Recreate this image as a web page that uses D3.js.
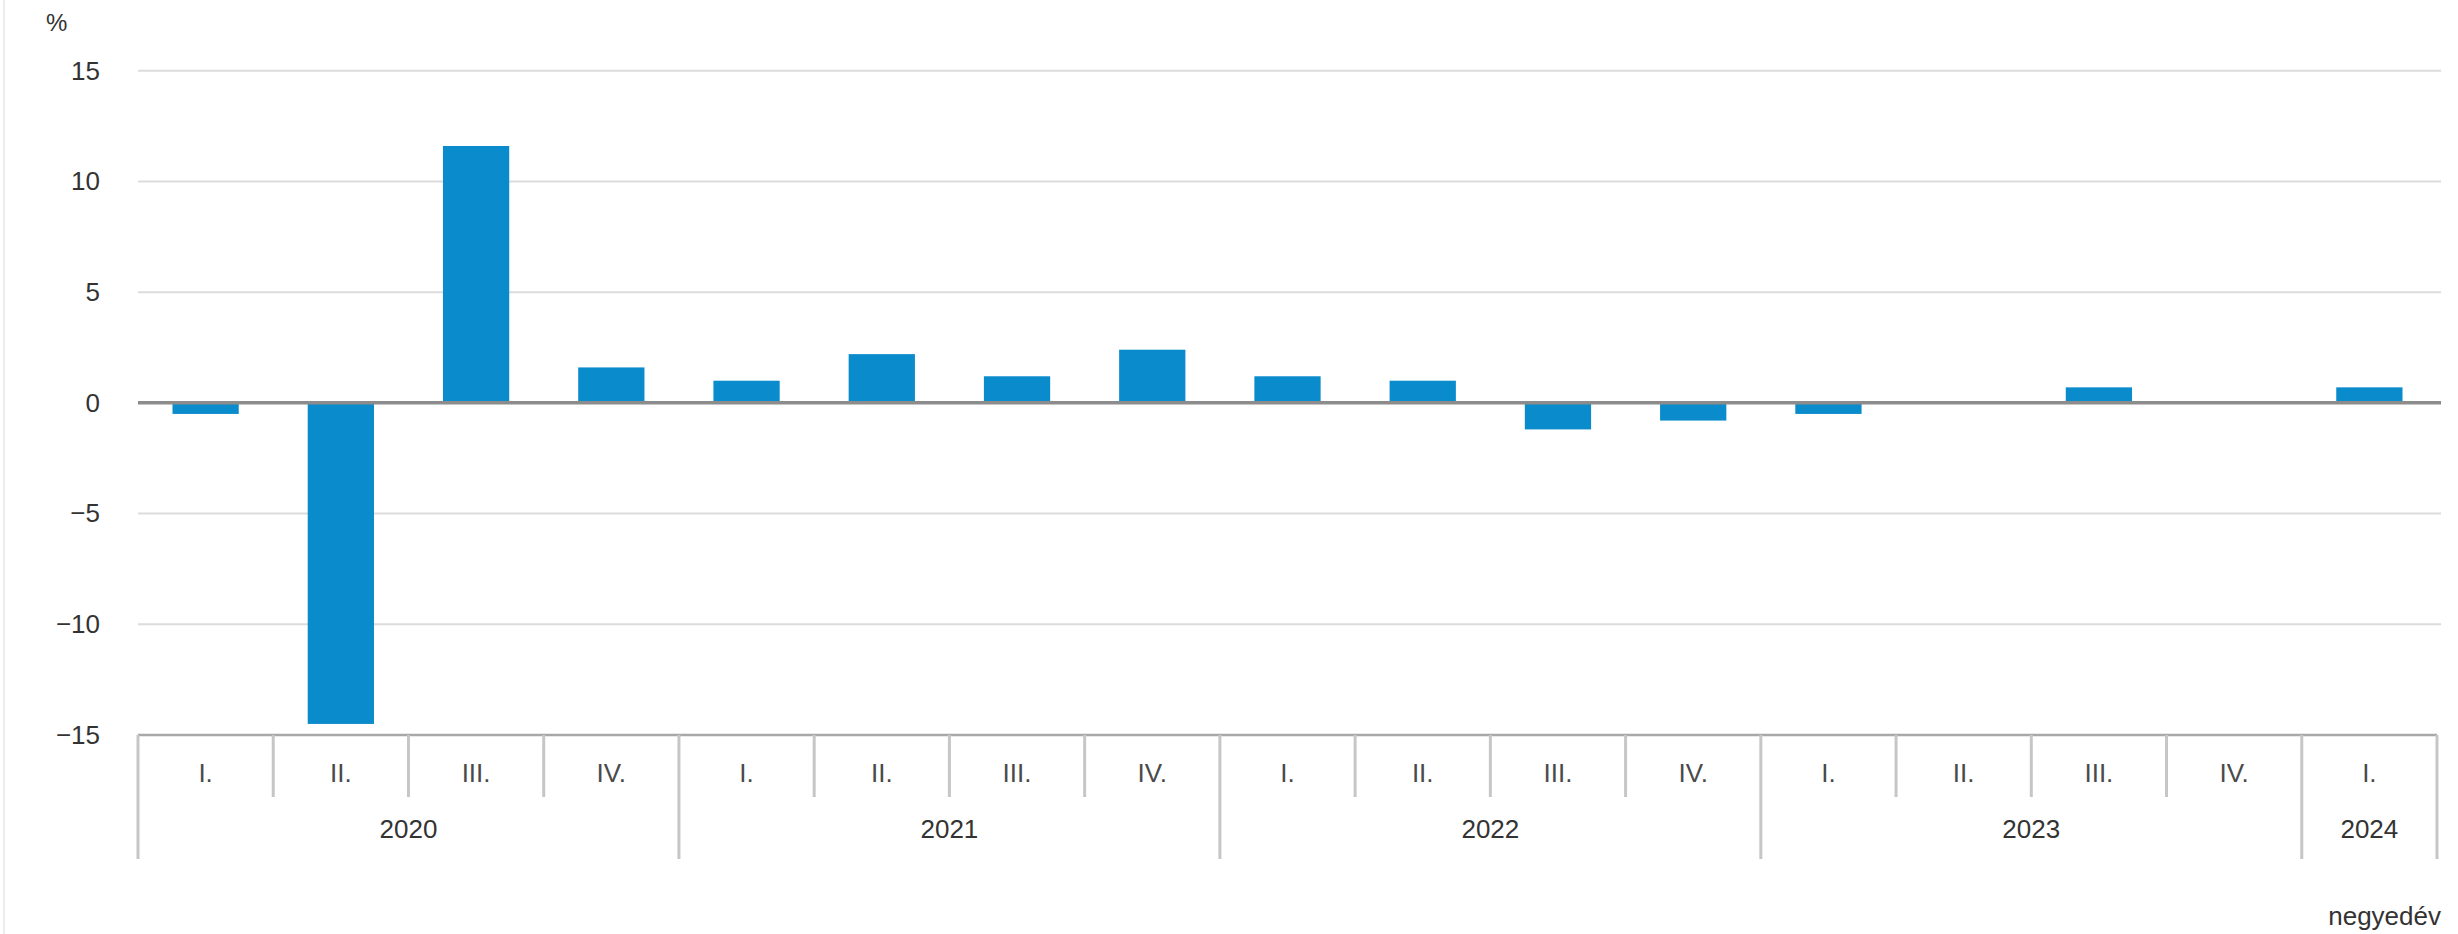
<!DOCTYPE html>
<html>
<head>
<meta charset="utf-8">
<script src="https://cdn.jsdelivr.net/npm/d3@7"></script>
<style>
  html, body { margin: 0; padding: 0; background: #fff; }
  svg { display: block; font-family: "Liberation Sans", Arial, sans-serif; }
</style>
</head>
<body>
<svg id="chart" width="2458" height="934"></svg>
<script>
const years = ["2020", "2020", "2020", "2020", "2021", "2021", "2021", "2021", "2022", "2022", "2022", "2022", "2023", "2023", "2023", "2023", "2024"];
const quarters = ["I.", "II.", "III.", "IV.", "I.", "II.", "III.", "IV.", "I.", "II.", "III.", "IV.", "I.", "II.", "III.", "IV.", "I."];
const values = [-0.5, -14.5, 11.6, 1.6, 1.0, 2.2, 1.2, 2.4, 1.2, 1.0, -1.2, -0.8, -0.5, 0.0, 0.7, 0.0, 0.7];
const yTicks = [-15, -10, -5, 0, 5, 10, 15];
const yTickLabels = ["\u221215", "\u221210", "\u22125", "0", "5", "10", "15"];
const yearLabels = ["2020", "2021", "2022", "2023", "2024"];
const unitLabel = "%";
const xTitle = "negyedév";

const svg = d3.select("#chart");
const mLeft = 138, mRight = 2437, mTop = 70.7, mBottom = 735, gridRight = 2441;
const idx = d3.range(values.length);

const x = d3.scaleBand().domain(idx).range([mLeft, mRight]).paddingInner(0).paddingOuter(0);
const y = d3.scaleLinear().domain([-15, 15]).range([mBottom, mTop]);

const textColor = "#333";
const fontSize = 26;

// faint frame line on the left
svg.append("line").attr("x1", 4).attr("x2", 4).attr("y1", 0).attr("y2", 934)
  .attr("stroke", "#ececec").attr("stroke-width", 2);

// gridlines
svg.append("g").selectAll("line").data(yTicks.filter(d => d !== 0 && d !== -15)).join("line")
  .attr("x1", mLeft).attr("x2", gridRight)
  .attr("y1", d => y(d)).attr("y2", d => y(d))
  .attr("stroke", "#dcdcdc").attr("stroke-width", 2);

// y tick labels
svg.append("g").selectAll("text").data(yTicks).join("text")
  .attr("x", 100).attr("y", d => y(d) + 2)
  .attr("text-anchor", "end").attr("dominant-baseline", "middle")
  .attr("font-size", fontSize).attr("fill", textColor)
  .text((d, i) => yTickLabels[i]);

// unit label
svg.append("text").attr("x", 46).attr("y", 31)
  .attr("font-size", fontSize - 2).attr("fill", textColor).text(unitLabel);

// bars
const barW = x.bandwidth() * 0.49;
svg.append("g").selectAll("rect").data(idx.filter(i => values[i] !== 0)).join("rect")
  .attr("x", i => x(i) + (x.bandwidth() - barW) / 2)
  .attr("width", barW)
  .attr("y", i => y(Math.max(0, values[i])))
  .attr("height", i => Math.abs(y(values[i]) - y(0)))
  .attr("fill", "#0a8bcb");

// zero line
svg.append("line").attr("x1", mLeft).attr("x2", gridRight)
  .attr("y1", y(0)).attr("y2", y(0))
  .attr("stroke", "#8c8c8c").attr("stroke-width", 3.5);

// bottom axis line
svg.append("line").attr("x1", mLeft).attr("x2", mRight)
  .attr("y1", mBottom).attr("y2", mBottom)
  .attr("stroke", "#a8a8a8").attr("stroke-width", 2.5);

// separators: quarter ticks (short) and year boundaries (long)
const bounds = d3.range(values.length + 1);
svg.append("g").selectAll("line").data(bounds).join("line")
  .attr("x1", i => i < values.length ? x(i) : mRight)
  .attr("x2", i => i < values.length ? x(i) : mRight)
  .attr("y1", mBottom)
  .attr("y2", i => (i === 0 || i === values.length || years[i] !== years[i - 1]) ? 859 : 797)
  .attr("stroke", "#c6c6c6").attr("stroke-width", 3);

// quarter labels
svg.append("g").selectAll("text").data(idx).join("text")
  .attr("x", i => x(i) + x.bandwidth() / 2).attr("y", 775)
  .attr("text-anchor", "middle").attr("dominant-baseline", "middle")
  .attr("font-size", fontSize).attr("fill", "#4a4a4a")
  .text(i => quarters[i]);

// year labels
yearLabels.forEach(yr => {
  const members = idx.filter(i => years[i] === yr);
  const x0 = x(members[0]);
  const x1 = x(members[members.length - 1]) + x.bandwidth();
  svg.append("text")
    .attr("x", (x0 + x1) / 2).attr("y", 831)
    .attr("text-anchor", "middle").attr("dominant-baseline", "middle")
    .attr("font-size", fontSize).attr("fill", textColor)
    .text(yr);
});

// x axis title
svg.append("text").attr("x", gridRight).attr("y", 925)
  .attr("text-anchor", "end")
  .attr("font-size", fontSize).attr("fill", textColor)
  .text(xTitle);
</script>
</body>
</html>
